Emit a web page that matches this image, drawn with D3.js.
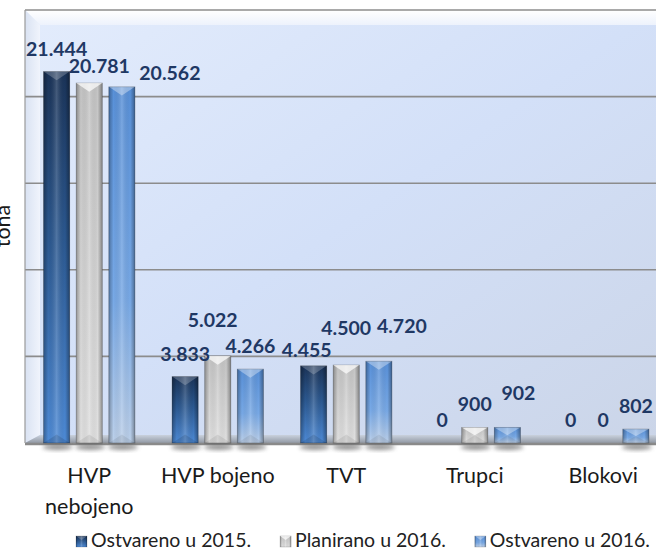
<!DOCTYPE html>
<html>
<head>
<meta charset="utf-8">
<script src="https://cdnjs.cloudflare.com/ajax/libs/d3/7.8.5/d3.min.js"></script>
<style>
  body { margin: 0; background: #fff; }
  svg { display: block; }
</style>
</head>
<body>
<div id="chart"></div>
<script>
// data
var categories = ["HVP nebojeno", "HVP bojeno", "TVT", "Trupci", "Blokovi"];
var seriesNames = ["Ostvareno u 2015.", "Planirano u 2016.", "Ostvareno u 2016."];
var ostvareno2015 = [21444, 3833, 4455, 0, 0];
var planirano2016 = [20781, 5022, 4500, 900, 0];
var ostvareno2016 = [20562, 4266, 4720, 902, 802];
var yTicks = [0, 5000, 10000, 15000, 20000, 25000];
var yTitle = "tona";

// hand moved data labels (dx, dy) like in the original sheet
var labelNudge = [
  [[0, 0], [0, 0], [-7, 7], [0, 0], [0, 0]],
  [[10, 6], [-5, -13], [0, -14], [0, 0], [0, 0]],
  [[48, 9], [0, 0], [23, -12], [11, -11], [0, 0]]
];

var seriesValues = [ostvareno2015, planirano2016, ostvareno2016];
var width = 656, height = 551;
var plotLeft = 25, plotTop = 10, plotBottom = 443, plotRight = 667.5;

var fmt = d3.formatLocale({decimal: ",", thousands: ".", grouping: [3], currency: ["", ""]}).format(",d");

var svg = d3.select("#chart").append("svg")
  .attr("width", width)
  .attr("height", height);

var defs = svg.append("defs");

function grad(id, stops, x2, y2) {
  var g = defs.append("linearGradient").attr("id", id)
    .attr("x1", 0).attr("y1", 0).attr("x2", x2).attr("y2", y2);
  stops.forEach(function(s) {
    g.append("stop").attr("offset", s[0]).attr("stop-color", s[1]).attr("stop-opacity", s[2] == null ? 1 : s[2]);
  });
}

grad("wall", [[0, "#e3ecfc"], [0.5, "#d3e0f8"], [1, "#cbd5e8"]], 1, 1);
grad("wallTop", [[0, "#ffffff"], [1, "#edf2fc"]], 0, 1);
grad("wallLeft", [[0, "#d9e2f2"], [1, "#f0f4fc"]], 1, 0);
grad("floor", [[0, "#c9d1dd"], [1, "#9299a4"]], 0, 1);
grad("s0", [[0, "#1a3358"], [0.45, "#2b5890"], [1, "#4d8ad6"]], 0, 1);
grad("s1", [[0, "#c4c4c4"], [1, "#e0e0e0"]], 0, 1);
grad("s2", [[0, "#5890d8"], [0.6, "#78a9e6"], [1, "#bcd0ea"]], 0, 1);
grad("edges", [[0, "#000", 0.3], [0.18, "#000", 0], [0.5, "#fff", 0.18], [0.82, "#000", 0], [1, "#000", 0.35]], 1, 0);

defs.append("filter").attr("id", "blur").attr("x", "-50%").attr("y", "-50%").attr("width", "200%").attr("height", "200%")
  .append("feGaussianBlur").attr("stdDeviation", 2);

// scales
var x = d3.scaleBand().domain(categories).range([plotLeft, plotRight]).paddingInner(0).paddingOuter(0);
var xs = d3.scaleBand().domain([0, 1, 2]).range([0, x.bandwidth()]).paddingInner(0.2).paddingOuter(0.57);
var y = d3.scaleLinear().domain([0, 25000]).range([plotBottom, plotTop]);

// 1. walls
var bev = 15;
svg.append("rect").attr("x", plotLeft).attr("y", plotTop).attr("width", width - plotLeft).attr("height", plotBottom - plotTop)
  .attr("fill", "url(#wall)");
svg.append("path").attr("fill", "url(#wallTop)")
  .attr("d", "M" + plotLeft + "," + plotTop + "L" + width + "," + plotTop + "L" + width + "," + (plotTop + bev) + "L" + (plotLeft + bev) + "," + (plotTop + bev) + "Z");
svg.append("path").attr("fill", "url(#wallLeft)")
  .attr("d", "M" + plotLeft + "," + plotTop + "L" + (plotLeft + bev) + "," + (plotTop + bev) + "L" + (plotLeft + bev) + "," + (plotBottom - 8) + "L" + plotLeft + "," + plotBottom + "Z");
svg.append("path").attr("fill", "url(#floor)")
  .attr("d", "M" + plotLeft + "," + plotBottom + "L" + (plotLeft + bev) + "," + (plotBottom - 8) + "L" + width + "," + (plotBottom - 8) + "L" + width + "," + plotBottom + "Z");

// 2. gridlines
svg.append("g").selectAll("line").data(yTicks.slice(1)).enter().append("line")
  .attr("x1", plotLeft).attr("x2", width)
  .attr("y1", function(d) { return y(d); })
  .attr("y2", function(d) { return y(d); })
  .attr("stroke", "#8c8c8c").attr("stroke-width", 1.6);
svg.append("line").attr("x1", plotLeft).attr("x2", width).attr("y1", plotBottom + 1).attr("y2", plotBottom + 1)
  .attr("stroke", "#8a8a8a").attr("stroke-width", 2.5);
svg.append("line").attr("x1", plotLeft).attr("x2", plotLeft).attr("y1", plotTop).attr("y2", plotBottom)
  .attr("stroke", "#9a9a9a").attr("stroke-width", 1.2);

// 3. bars
var flat = [];
seriesValues.forEach(function(vals, s) {
  vals.forEach(function(v, i) {
    flat.push({s: s, cat: categories[i], i: i, v: v});
  });
});

var bars = svg.append("g").selectAll("g").data(flat.filter(function(d) { return d.v > 0; })).enter().append("g");

bars.append("ellipse")
  .attr("cx", function(d) { return x(d.cat) + xs(d.s) + xs.bandwidth() / 2 + 1; })
  .attr("cy", plotBottom + 4)
  .attr("rx", xs.bandwidth() / 2 + 2).attr("ry", 3)
  .attr("fill", "#666").attr("opacity", 0.7).attr("filter", "url(#blur)");

bars.append("rect")
  .attr("x", function(d) { return x(d.cat) + xs(d.s); })
  .attr("y", function(d) { return y(d.v); })
  .attr("width", xs.bandwidth())
  .attr("height", function(d) { return plotBottom - y(d.v); })
  .attr("fill", function(d) { return "url(#s" + d.s + ")"; });

bars.append("rect")
  .attr("x", function(d) { return x(d.cat) + xs(d.s); })
  .attr("y", function(d) { return y(d.v); })
  .attr("width", xs.bandwidth())
  .attr("height", function(d) { return plotBottom - y(d.v); })
  .attr("fill", "url(#edges)")
  .attr("stroke", "rgba(0,0,0,0.3)").attr("stroke-width", 0.8);

var bevelTone = ["rgba(255,255,255,0.22)", "rgba(255,255,255,0.7)", "rgba(255,255,255,0.35)"];
var bevelLow = ["rgba(0,0,0,0.12)", "rgba(0,0,0,0.08)", "rgba(0,0,0,0.08)"];

// top bevel
bars.append("path")
  .attr("fill", function(d) { return bevelTone[d.s]; })
  .attr("d", function(d) {
    var x0 = x(d.cat) + xs(d.s), w = xs.bandwidth(), t = y(d.v);
    var dep = Math.min(w * 0.33, (plotBottom - t) / 2);
    return "M" + x0 + "," + t + "L" + (x0 + w) + "," + t + "L" + (x0 + w / 2) + "," + (t + dep) + "Z";
  });
// bottom bevel
bars.append("path")
  .attr("fill", function(d) { return bevelLow[d.s]; })
  .attr("d", function(d) {
    var x0 = x(d.cat) + xs(d.s), w = xs.bandwidth(), t = y(d.v);
    var dep = Math.min(w * 0.33, (plotBottom - t) / 2);
    return "M" + x0 + "," + plotBottom + "L" + (x0 + w) + "," + plotBottom + "L" + (x0 + w / 2) + "," + (plotBottom - dep) + "Z";
  });

// 4. data labels
svg.append("g").selectAll("text").data(flat).enter().append("text")
  .attr("x", function(d) { return x(d.cat) + xs(d.s) + xs.bandwidth() / 2 + labelNudge[d.s][d.i][0]; })
  .attr("y", function(d) { return y(d.v) - 16 + labelNudge[d.s][d.i][1]; })
  .attr("text-anchor", "middle")
  .style("font-family", "Lato, 'Open Sans', sans-serif")
  .style("font-weight", "bold")
  .style("font-size", "19.5px")
  .style("fill", "#1f3864")
  .text(function(d) { return fmt(d.v); });

// 5. category labels, wrapped like excel when too wide
var catText = svg.append("g").selectAll("text").data(categories).enter().append("text")
  .attr("x", function(d) { return x(d) + x.bandwidth() / 2; })
  .attr("y", 483)
  .attr("text-anchor", "middle")
  .style("font-family", "Lato, 'Open Sans', sans-serif")
  .style("font-size", "21.5px")
  .style("fill", "#1a1a1a")
  .text(function(d) { return d; });

catText.each(function(d) {
  var t = d3.select(this);
  if (this.getComputedTextLength() > x.bandwidth() - 4) {
    var words = d.split(" ");
    t.text(null);
    words.forEach(function(w, k) {
      t.append("tspan").attr("x", x(d) + x.bandwidth() / 2).attr("dy", k == 0 ? 0 : 31).text(w);
    });
  }
});

// 6. axis title
svg.append("text")
  .attr("transform", "translate(10," + 226 + ") rotate(-90)")
  .attr("text-anchor", "middle")
  .style("font-family", "Lato, 'Open Sans', sans-serif")
  .style("font-size", "21.5px")
  .style("fill", "#1a1a1a")
  .text(yTitle);

// 7. legend
var legend = svg.append("g");
var lx = 76;
seriesNames.forEach(function(name, s) {
  var item = legend.append("g").attr("transform", "translate(" + lx + ",536)");
  item.append("rect").attr("width", 11).attr("height", 11).attr("fill", "url(#s" + s + ")");
  item.append("rect").attr("width", 11).attr("height", 11).attr("fill", "url(#edges)")
    .attr("stroke", "rgba(0,0,0,0.25)").attr("stroke-width", 0.6);
  item.append("path").attr("d", "M0,0L11,0L5.5,4Z").attr("fill", bevelTone[s]);
  var t = item.append("text").attr("x", 15).attr("y", 11)
    .style("font-family", "Lato, 'Open Sans', sans-serif")
    .style("font-size", "19.5px")
    .style("fill", "#222")
    .text(name);
  lx += 15 + t.node().getComputedTextLength() + 29;
});
</script>
</body>
</html>
